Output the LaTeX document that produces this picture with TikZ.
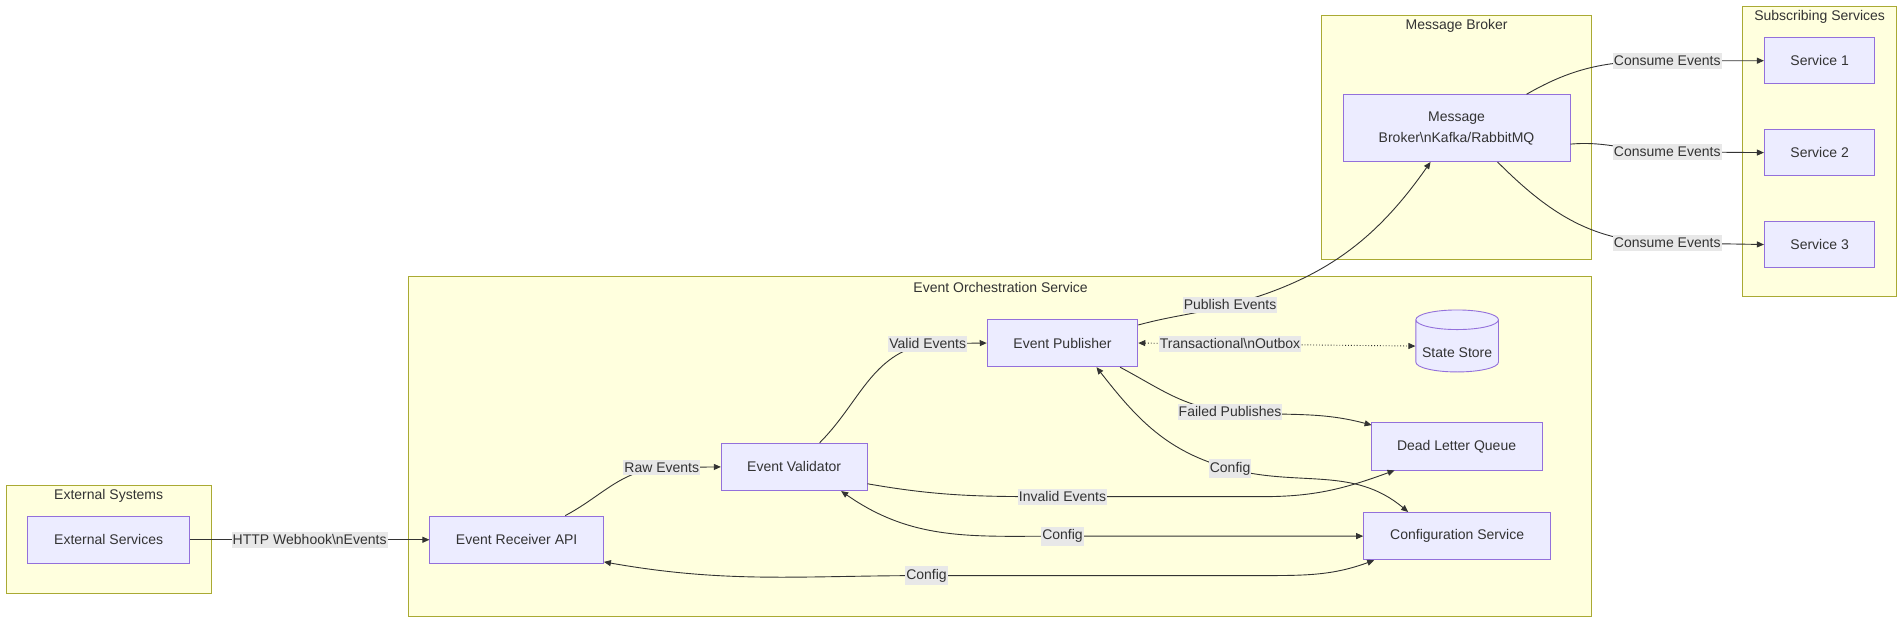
\documentclass[tikz,border=0pt]{standalone}
\usepackage{fontspec}
\setmainfont{Liberation Sans}
\usetikzlibrary{arrows.meta,positioning,shapes.geometric}
\tikzset{>/.tip={Triangle[length=7pt,width=6pt]}}
\definecolor{clfill}{HTML}{FFFFDE}
\definecolor{cldraw}{HTML}{AAAA33}
\definecolor{nfill}{HTML}{ECECFF}
\definecolor{ndraw}{HTML}{9370DB}
\definecolor{lblfill}{HTML}{E8E8E8}
\definecolor{ink}{HTML}{333333}
\tikzset{
  cluster/.style={draw=cldraw,fill=clfill,line width=0.9pt},
  cltitle/.style={text=ink,inner sep=0pt},
  svc/.style={draw=ndraw,fill=nfill,line width=0.9pt,text=ink,minimum height=47.4pt,inner sep=0pt},
  lbl/.style={fill=lblfill,text=ink,inner xsep=1pt,inner ysep=3pt},
  flow/.style={draw=ink,line width=0.9pt},
}

\begin{document}
\begin{tikzpicture}[x=1.2143pt,y=-1.2143pt,font=\fontsize{14}{17}\selectfont,node distance=45pt]
      \useasboundingbox (0,0) rectangle (1568,514);

      % subgraphs
      \draw[cluster] (5,400) rectangle (174,489);
      \draw[cluster] (336,228) rectangle (1311,508);
      \draw[cluster] (1088,13) rectangle (1311,214);
      \draw[cluster] (1435,5) rectangle (1562,244);
      \node[cltitle](exttitle) at (89.5,408){External Systems};
      \node[cltitle](orchtitle) at (824,237){Event Orchestration Service};
      \node[cltitle](brokertitle) at (1199.5,21){Message Broker};
      \node[cltitle](substitle) at (1498.5,14){Subscribing Services};

      % services
      \node[svc,minimum width=161.5pt](extsvc) at (89.5,444.5){External Services};
      \node[svc,minimum width=173.6pt](receiver) at (425.5,444.5){Event Receiver API};
      \node[svc,minimum width=145.7pt](validator) at (654,384.5){Event Validator};
      \node[svc,minimum width=150.6pt](publisher) at (875,282.5){Event Publisher};
      \node[cylinder,shape border rotate=90,aspect=0.28,draw=ndraw,fill=nfill,line width=0.9pt,
        text=ink,minimum width=82.6pt,minimum height=62pt,inner sep=0pt](store) at (1200,285)
        {\raisebox{-11pt}[0pt][0pt]{State Store}};
      \node[svc,minimum width=171pt](dlq) at (1199.5,367.5){Dead Letter Queue};
      \node[svc,minimum width=187pt](config) at (1200,441.5){Configuration Service};
      \node[svc,minimum width=227pt,minimum height=66.8pt,align=center](broker) at (1199.5,105.5)
        {Message\\[4pt]Broker\textbackslash nKafka/RabbitMQ};
      \node[svc,minimum width=110.5pt,minimum height=46pt](svc1) at (1498.5,50){Service 1};
      \node[svc,minimum width=110.5pt,minimum height=46pt,below=of svc1](svc2){Service 2};
      \node[svc,minimum width=110.5pt,minimum height=46pt,below=of svc2](svc3){Service 3};

      % label points
      \coordinate(http) at (255,444.5);
      \coordinate(raw) at (545,385);
      \coordinate(valid) at (764,283);
      \coordinate(outbox) at (1013,283);
      \coordinate(publish) at (1013,251);
      \coordinate(failed) at (1013,339);
      \coordinate(invalid) at (875,409);
      \coordinate(cfgval) at (875,441.5);
      \coordinate(cfgrec) at (763,474);
      \coordinate(cfgpub) at (1013,386);
      \coordinate(consume1) at (1373,50);
      \coordinate(consume2) at (1373,125);
      \coordinate(consume3) at (1373,200);

      \draw[flow,->] (extsvc) -- (receiver);
      \draw[flow,->] (receiver.north)+(40,0) to[out=28,in=185] (raw) -- (validator.west);
      \draw[flow,->] (validator.north)+(21,0) to[out=45,in=190] (valid) -- (publisher.west);
      \draw[flow,<->,dotted] (publisher.east) -- (store.west);
      \draw[flow,->] (publisher.north east)+(0,5) to[out=15,in=195] (publish) to[out=15,in=-125] ([xshift=-26pt]broker.south);
      \draw[flow,->] (publisher.south east)+(-15,0) to[out=-28,in=175] (failed) to[out=-5,in=165] ([xshift=1pt,yshift=-3pt]dlq.north west);
      \draw[flow,->] (validator.south east)+(0,-6) to[out=-10,in=180] (invalid) -- (1040,409) to[out=0,in=-160] ([xshift=-62pt]dlq.south);
      \draw[flow,<->] ([xshift=47pt]validator.south) to[out=-35,in=180] (cfgval) -- (config.west);
      \draw[flow,<->] ([yshift=2pt]receiver.south east) to[out=-10,in=180] (cfgrec) -- (1040,474) to[out=0,in=-160] ([xshift=11pt]config.south west);
      \draw[flow,<->] ([xshift=34pt]publisher.south) to[out=-52,in=165] (cfgpub) to[out=-15,in=140] ([xshift=-49pt]config.north);
      \draw[flow,->] ([xshift=70pt]broker.north) to[out=30,in=180] (consume1) -- (svc1.west);
      \draw[flow,->] ([yshift=-16pt]broker.east) to[out=5,in=180] (consume2) -- (svc2.west);
      \draw[flow,->] ([xshift=41pt]broker.south) to[out=-45,in=180] (consume3) -- (svc3.west);

      % edge labels
      \node[lbl](httplbl) at (http){HTTP Webhook\textbackslash nEvents};
      \node[lbl](rawlbl) at (raw){Raw Events};
      \node[lbl](validlbl) at (valid){Valid Events};
      \node[lbl](outboxlbl) at (outbox){Transactional\textbackslash nOutbox};
      \node[lbl](publishlbl) at (publish){Publish Events};
      \node[lbl](failedlbl) at (failed){Failed Publishes};
      \node[lbl](invalidlbl) at (invalid){Invalid Events};
      \node[lbl](cfgvallbl) at (cfgval){Config};
      \node[lbl](cfgreclbl) at (cfgrec){Config};
      \node[lbl](cfgpublbl) at (cfgpub){Config};
      \foreach \i in {1,2,3}
        \node[lbl](consumelbl\i) at (consume\i){Consume Events};
    \end{tikzpicture}
\end{document}
